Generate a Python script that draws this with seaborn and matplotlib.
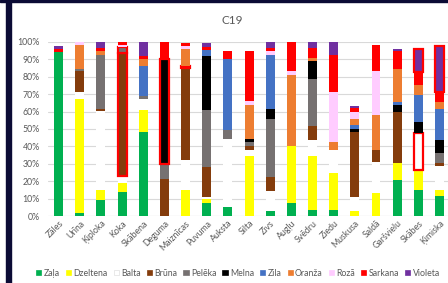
import matplotlib
matplotlib.use("Agg")
import matplotlib.pyplot as plt
import matplotlib.patches as mpatches
import seaborn as sns
import numpy as np

categories = ["Zāles", "Urīna", "Ķiploka", "Koka", "Skābena", "Deguma", "Maiznīcas",
              "Puvuma", "Auksta", "Silta", "Zivs", "Augļu", "Svēdru", "Ziedu",
              "Muskusa", "Saldā", "Garšvielu", "Skābes", "Ķimiska"]

zala     = [94.5, 1.7, 9.4, 13.6, 48.0, 0, 0, 7.5, 5.0, 0, 3.0, 7.7, 3.4, 3.4, 0, 0, 20.9, 15.1, 11.3]
dzeltena = [0, 65.5, 5.7, 5.4, 13.0, 0, 15.0, 2.0, 0, 34.3, 0, 32.4, 30.8, 21.3, 3.0, 13.2, 9.6, 11.1, 3.4]
balta    = [0, 4.0, 45.0, 3.8, 6.0, 0, 17.2, 1.5, 39.0, 3.8, 11.5, 0, 9.6, 13.4, 7.7, 17.6, 0, 21.5, 13.8]
bruna    = [0, 12.0, 1.5, 71.0, 0, 21.0, 52.7, 17.0, 0, 2.3, 8.2, 0, 8.0, 0, 37.5, 7.3, 29.3, 0, 1.9]
peleka   = [0, 1.5, 31.0, 3.5, 2.0, 9.0, 0, 33.0, 5.7, 2.0, 33.0, 0, 27.0, 0, 0, 0, 0, 0, 5.7]
melna    = [0, 0, 0, 0, 0, 60.0, 0, 31.0, 0, 2.0, 5.7, 0, 10.0, 0, 2.0, 0, 3.8, 6.1, 7.7]
zila     = [0, 0, 0, 0, 17.4, 0, 1.5, 3.4, 40.8, 0, 31.2, 0, 0, 0, 2.0, 0, 1.9, 15.5, 17.8]
oranza   = [0, 13.8, 2.0, 0, 3.8, 0, 9.6, 0, 0, 19.5, 0, 40.8, 2.0, 4.2, 3.6, 19.7, 19.2, 5.7, 3.8]
roza     = [0, 1.5, 0, 1.2, 0, 0, 1.5, 0, 0, 2.0, 2.0, 2.3, 0, 29.0, 4.0, 25.3, 0, 0, 0]
sarkana  = [1.5, 0, 2.0, 1.5, 2.0, 10.0, 2.0, 2.0, 4.2, 28.7, 2.0, 16.9, 5.7, 21.5, 2.0, 15.0, 10.0, 7.7, 5.7]
violeta  = [1.5, 0, 3.4, 0, 7.7, 0, 0, 2.0, 0, 0, 3.4, 0, 3.4, 7.3, 1.7, 0, 1.5, 13.4, 26.8]

series_names = ["Zaļa", "Dzeltena", "Balta", "Brūna", "Pelēka", "Melna",
                "Zila", "Oranža", "Rozā", "Sarkana", "Violeta"]
series_values = [zala, dzeltena, balta, bruna, peleka, melna, zila, oranza, roza, sarkana, violeta]
series_colors = ["#00B050", "#FFFF00", "#FFFFFF", "#843C0C", "#767171", "#000000",
                 "#4472C4", "#ED7D31", "#FFCCFF", "#FF0000", "#7030A0"]

# segments outlined in red: (series, category)
highlights = [("Brūna", "Koka"), ("Pelēka", "Koka"), ("Melna", "Deguma"),
              ("Zila", "Maiznīcas"), ("Balta", "Skābes"), ("Violeta", "Skābes"),
              ("Violeta", "Ķimiska")]

sns.set_theme(style="white")
plt.rcParams["font.family"] = ["Lato", "DejaVu Sans"]

fig = plt.figure(figsize=(4.48, 2.83), dpi=100)
ax = fig.add_axes([48 / 448, 67 / 283, 400 / 448, 174 / 283])

bottom = np.zeros(len(categories))
for name, vals, col in zip(series_names, series_values, series_colors):
    v = np.array(vals) / 100
    sns.barplot(x=categories, y=v, bottom=bottom, color=col, saturation=1,
                width=0.42, errorbar=None, ax=ax, linewidth=0)
    bottom += v

for s_name, c_name in highlights:
    patch = ax.containers[series_names.index(s_name)][categories.index(c_name)]
    patch.set_edgecolor("#FF0000")
    patch.set_linewidth(1.6)

ax.set_xlim(-0.5, 18.4)
ax.set_ylim(0, 1)
ax.set_yticks(np.arange(0, 1.01, 0.1))
ax.set_yticklabels([f"{int(round(t * 100))}%" for t in np.arange(0, 1.01, 0.1)])
ax.yaxis.grid(True, color="#D9D9D9", linewidth=0.8)
ax.set_axisbelow(True)
for s in ax.spines.values():
    s.set_visible(False)
ax.axhline(0, color="#D9D9D9", linewidth=0.8, zorder=0)
ax.set_xlabel("")
ax.set_ylabel("")
ax.tick_params(axis="y", labelsize=6.3, colors="#595959", pad=6, length=0)
ax.tick_params(axis="x", labelsize=6.3, colors="#595959", pad=2, length=0)
plt.setp(ax.get_xticklabels(), rotation=45, ha="right", rotation_mode="anchor")

fig.text(232 / 448, 1 - 20 / 283, "C19", ha="center", va="center",
         fontsize=8.5, color="#595959")

handles = [mpatches.Patch(facecolor=c, edgecolor="#E0E0E0" if c == "#FFFFFF" else c,
                          linewidth=0.5, label=n)
           for n, c in zip(series_names, series_colors)]
fig.legend(handles=handles, loc="center", bbox_to_anchor=(238 / 448, 10 / 283),
           ncol=11, frameon=False, fontsize=6.3, handlelength=0.6, handleheight=0.6,
           handletextpad=0.25, columnspacing=0.7, labelcolor="#595959")

# dark frame edges from the screenshot
fig.patches.append(mpatches.Rectangle((6 / 448, 0), 5 / 448, 1, transform=fig.transFigure,
                                      color="#0B0B35", zorder=10))
fig.patches.append(mpatches.Rectangle((0, 1 - 2 / 283), 1, 2 / 283, transform=fig.transFigure,
                                      color="#0B0B35", zorder=10))

fig.savefig("out.png", dpi=100)
